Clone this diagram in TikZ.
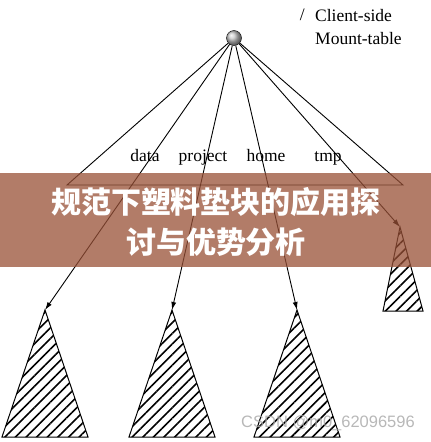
\documentclass[tikz,border=0pt]{standalone}
\usepackage{fontspec}
\setmainfont{Liberation Serif}
\newfontfamily\cjk{Noto Sans CJK SC}
\newfontfamily\wmfont{Liberation Sans}
\usetikzlibrary{arrows.meta,patterns.meta}
\definecolor{bannerbrown}{RGB}{152,80,54}

\begin{document}
\begin{tikzpicture}[x=1pt,y=-1pt]

\def \apexy {310}
\def \baseh {127}
\def \halfw {43}

\tikzset{mount/.style = {circle, draw, inner sep=0pt, minimum size=15pt, shading=ball, ball color=gray!45}}
\tikzset{dirname/.style = {inner sep=0pt, font=\fontsize{17.5}{20}\selectfont}}
\tikzset{subtree/.style = {draw, line width=1pt, pattern={Lines[angle=45, distance=7.5pt, line width=1.6pt]}}}
\tikzset{link/.style = {line width=0.9pt, -{Latex[length=8pt, width=5pt]}}}

\useasboundingbox (0,0) rectangle (431,442);

% mount table
\node[mount] (root) at (234,38) {};
\node[dirname, anchor=east] (slash) at (305,15) {/};
\node[dirname, anchor=west, align=left, font=\fontsize{17.5}{23}\selectfont] (table) at (315,27) {Client-side\\Mount-table};

\coordinate (ml) at (67,185);
\coordinate (mr) at (403,185);
\draw[line width=0.9pt] (root) -- (ml) -- (mr) -- (root);

% mounted sub-trees
\foreach \name/\x/\lx in {data/45/145, project/172/203, home/297/266}
{
	\node[dirname, anchor=base] (\name) at (\lx,161) {\name};
	\coordinate (\name top) at (\x,\apexy);
	\draw[subtree] (\name top) -- ++(-\halfw,\baseh) -- ++({2*\halfw},0) -- cycle;
	\draw[link] (root) -- (\name top);
}

\node[dirname, anchor=base] (tmp) at (328,161) {tmp};
\coordinate (tmp top) at (400,227);
\draw[subtree] (tmp top) -- (383,311) -- (423,311) -- cycle;
\draw[link] (root) -- (tmp top);

% overlay
\fill[bannerbrown, opacity=0.75] (0,173) rectangle (431,267);
\node[text=white, align=center, font=\cjk\bfseries\fontsize{30}{40}\selectfont] (banner) at (216,222) {规范下塑料垫块的应用探\\讨与优势分析};
\node[text=gray!70, opacity=0.8, font=\wmfont\fontsize{16.5}{18}\selectfont] (mark) at (328,423) {CSDN @m0\_62096596};

\end{tikzpicture}
\end{document}
